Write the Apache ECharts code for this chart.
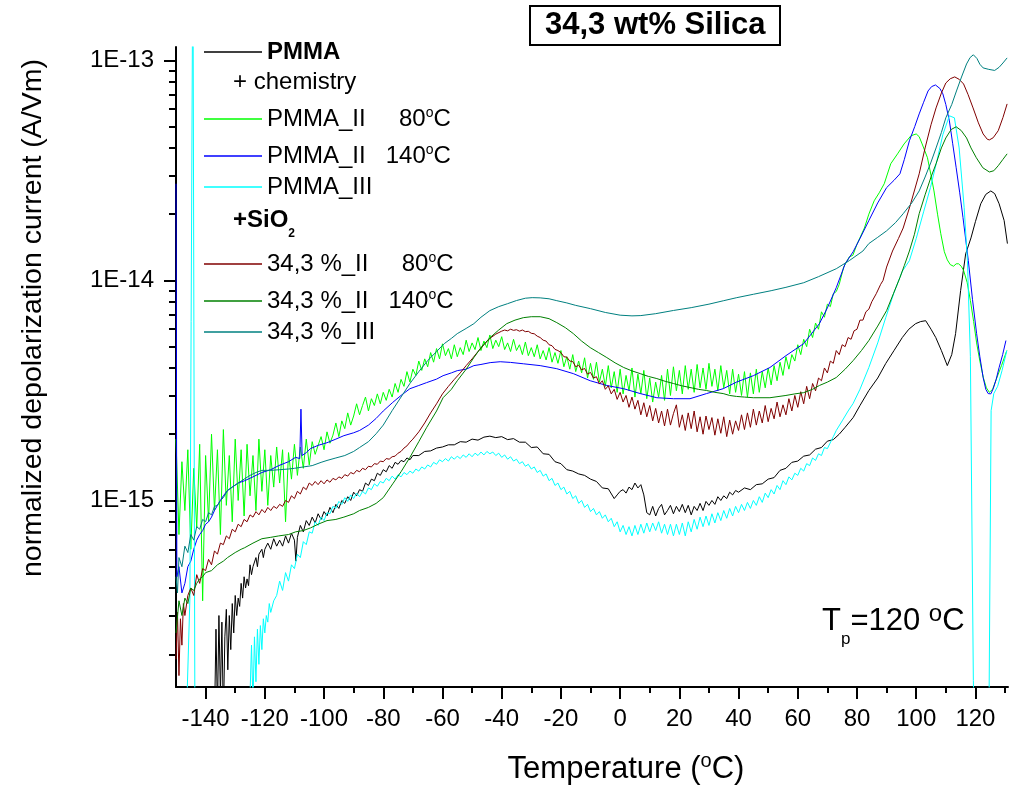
<!DOCTYPE html>
<html><head><meta charset="utf-8">
<script src="https://cdn.jsdelivr.net/npm/echarts@6/dist/echarts.min.js"></script>
<style>html,body{margin:0;padding:0;background:#fff}#c{width:1016px;height:787px}</style>
</head><body><div id="c"></div>
<script>
// values in units of 1E-15 A/Vm, x = temperature (°C)
const UNIT = 1e-15;
const xTicks = [-140,-120,-100,-80,-60,-40,-20,0,20,40,60,80,100,120];
const xMinorTicks = [-130,-110,-90,-70,-50,-30,-10,10,30,50,70,90,110,130];
const yTicks = [1e-15,1e-14,1e-13];
const seriesNames = ['PMMA','PMMA_II 80°C','PMMA_II 140°C','PMMA_III','34,3 %_II 80°C','34,3 %_II 140°C','34,3 %_III'];

const pmma = [[-137,0.1],[-136.5,0.26],[-136,0.11],[-135.5,0.3],[-135,0.13],[-134.5,0.28],[-134,0.1],[-133.5,0.24],[-133,0.32],[-132.5,0.17],[-132,0.3],[-131.5,0.21],[-131,0.34],[-130.5,0.25],[-130,0.37],[-129.5,0.3],[-129,0.36],[-128.5,0.33],[-128,0.42],[-127.5,0.36],[-127,0.45],[-126.5,0.4],[-126,0.44],[-125.5,0.41],[-125,0.51],[-124.5,0.46],[-124,0.5],[-123,0.55],[-122.5,0.5],[-122,0.57],[-121,0.6],[-120.5,0.55],[-120,0.6],[-119,0.64],[-118,0.6],[-117,0.67],[-116,0.62],[-115,0.66],[-114,0.62],[-113,0.69],[-112,0.64],[-111,0.71],[-110,0.66],[-109.5,0.53],[-109,0.68],[-108,0.77],[-107,0.72],[-106,0.81],[-105,0.77],[-104,0.84],[-103,0.79],[-102,0.87],[-101,0.82],[-100,0.89],[-99,0.85],[-98,0.93],[-97,0.88],[-96,0.96],[-95,0.92],[-94,1.0],[-93,0.97],[-92,1.04],[-91,1.0],[-90,1.09],[-89,1.05],[-88,1.12],[-87,1.1],[-86,1.2],[-85,1.17],[-84,1.25],[-83,1.23],[-82,1.33],[-81,1.3],[-80,1.38],[-79,1.35],[-78,1.44],[-77,1.4],[-76,1.49],[-75,1.46],[-74,1.52],[-73,1.5],[-72,1.56],[-71,1.53],[-70,1.6],[-68,1.6],[-66,1.67],[-64,1.68],[-62,1.73],[-60,1.75],[-58,1.79],[-56,1.79],[-54,1.85],[-52,1.84],[-50,1.9],[-48,1.88],[-46,1.94],[-44,1.96],[-42,1.93],[-40,1.95],[-38,1.89],[-36,1.91],[-34,1.84],[-32,1.84],[-30,1.74],[-28,1.75],[-26,1.63],[-24,1.62],[-22,1.5],[-20,1.47],[-18,1.38],[-16,1.36],[-14,1.32],[-12,1.3],[-10,1.25],[-8,1.22],[-6,1.14],[-4,1.13],[-2,1.02],[-1,1.06],[0,1.1],[1,1.12],[2,1.08],[3,1.15],[4,1.12],[5,1.2],[6,1.14],[7,1.18],[8,1.06],[9,0.88],[10,0.86],[11,0.94],[12,0.85],[13,0.92],[14,0.96],[15,0.86],[16,0.9],[17,0.95],[18,0.87],[19,0.94],[20,0.89],[21,0.96],[22,0.88],[23,0.95],[24,0.86],[25,0.94],[26,0.9],[27,0.97],[28,0.9],[29,0.99],[30,0.95],[31,1.0],[32,0.96],[33,1.04],[34,1.0],[35,1.05],[36,1.02],[37,1.09],[38,1.06],[39,1.11],[40,1.09],[42,1.14],[44,1.12],[46,1.18],[48,1.19],[50,1.25],[52,1.27],[54,1.37],[56,1.4],[58,1.49],[60,1.51],[62,1.59],[64,1.61],[66,1.71],[68,1.74],[70,1.86],[72,1.89],[74,2.0],[76,2.15],[78.7,2.38],[81,2.7],[84,3.16],[87,3.6],[89.7,4.19],[92.5,4.8],[95.3,5.5],[97.5,6.0],[99.8,6.36],[101.5,6.5],[103.2,6.56],[105,6.0],[106.6,5.5],[108.5,4.8],[110.5,4.1],[112,4.6],[113.3,5.73],[115,9.0],[116.7,13.2],[118.5,15.6],[120,18.5],[121.8,22.3],[123.5,24.6],[125.2,25.5],[126.5,24.8],[128,22.3],[129.7,18.7],[130.8,14.7]];

const pmmaII80 = [[-150,1.9],[-149,0.7],[-148,1.5],[-147,0.9],[-146,1.7],[-145,0.6],[-144,1.4],[-143,0.75],[-142,1.8],[-141,0.35],[-140,1.6],[-139,0.8],[-138,2.0],[-137,0.9],[-136,1.7],[-135,0.7],[-134,2.1],[-133,0.95],[-132,1.6],[-131,0.8],[-130,1.9],[-129,1.0],[-128,1.7],[-127,0.85],[-126,1.8],[-125,1.05],[-124,1.6],[-123,0.9],[-122,1.9],[-121,1.1],[-120,1.7],[-119,0.95],[-118,1.6],[-117,1.15],[-116,1.75],[-115,1.2],[-114,1.7],[-113,0.8],[-112,1.65],[-111,1.25],[-110,1.8],[-109,1.3],[-108,1.75],[-107,1.4],[-106,1.9],[-105,1.45],
[-104,1.85],[-103,1.62],[-102,1.78],[-101,1.95],[-100,1.7],[-99,2.05],[-98,1.82],[-97,1.98],[-96,2.25],[-95,1.95],[-94,2.3],[-93,2.12],[-92,2.5],[-91,2.2],[-90,2.42],[-89,2.75],[-88,2.45],[-87,2.7],[-86,2.95],[-85,2.55],[-84,2.9],[-83,2.7],[-82,3.05],[-81,2.75],[-80,3.1],[-79,2.85],[-78,3.2],[-77,2.95],[-76,3.4],[-75,3.1],[-74,3.55],[-73,3.3],[-72,3.85],[-71,3.45],[-70,3.95],[-69,3.7],[-68,4.3],[-67,3.9],[-66,4.4],[-65,4.05],[-64,4.7],[-63,4.25],[-62,4.9],[-61,4.4],[-60,5.15],[-59,4.55],[-58,4.9],[-57,4.4],[-56,5.1],[-55,4.5],[-54,4.95],[-53,4.6],[-52,5.35],[-51,4.75],[-50,5.2],[-49,4.85],[-48,5.5],[-47,4.8],[-46,5.3],[-45,4.95],[-44,5.65],[-43,4.9],[-42,5.35],[-41,5.0],[-40,5.55],[-39,4.85],[-38,5.2],[-37,4.75],[-36,5.4],[-35,4.8],[-34,5.1],[-33,4.6],[-32,5.25],[-31,4.55],[-30,4.95],[-29,4.5],[-28,5.1],[-27,4.4],[-26,4.8],[-25,4.35],[-24,4.95],[-23,4.25],[-22,4.7],[-21,4.2],[-20,4.8],[-19,4.05],[-18,4.5],[-17,3.95],[-16,4.6],[-15,3.85],[-14,4.3],[-13,3.8],[-12,4.45],[-11,3.6],[-10,4.2],[-9,3.55],[-8,4.25],[-7,3.45],[-6,3.95],[-5,3.3],[-4,4.1],[-3,3.25],[-2,3.85],[-1,3.1],[0,3.95],[1,3.05],[2,3.7],[3,3.15],[4,4.0],[5,2.95],[6,3.75],[7,3.05],[8,3.9],[9,2.9],[10,3.6],[11,2.8],[12,3.45],[13,2.95],[14,3.7],[15,2.85],[16,3.95],[17,3.0],[18,4.05],[19,3.15],[20,3.9],[21,3.05],[22,4.1],[23,3.2],[24,3.95],[25,3.1],[26,4.15],[27,3.25],[28,4.0],[29,3.2],[30,4.2],[31,3.3],[32,3.95],[33,3.15],[34,4.1],[35,3.25],[36,3.9],[37,3.05],[38,3.95],[39,3.1],[40,3.75],[41,3.0],[42,3.85],[43,2.95],[44,3.8],[45,3.05],[46,3.95],[47,3.1],[48,3.85],[49,3.25],[50,4.0],[51,3.35],[52,4.1],[53,3.5],[54,4.25],[55,3.7],[56,4.5],[57,3.95],[58,4.6],[59,4.3],[60,5.1],[61,4.6],[62,5.4],[63,5.0],[64,6.0],[65,5.5],[66,6.4],[67,6.0],[68,7.2],[69,6.8],[70,7.8],[71,7.6],[72,8.7],[73,8.9],[74,9.6],
[75.5,11.5],[77.4,12.8],[78.6,13.0],[80,14.6],[82.5,17.3],[84,20.0],[85.8,23.0],[87.5,25.0],[89.2,27.5],[91.4,33.9],[93.7,37.6],[95.9,41.7],[98.2,45.4],[100,46.3],[101,45.0],[102,41.7],[103.8,36.1],[105,30.0],[106,25.5],[107.2,20.0],[108.3,16.3],[109.5,13.5],[110.5,12.4],[111.5,11.8],[112.6,11.6],[113.5,11.9],[114.3,11.9],[115.2,11.6],[116,11.1],[117.2,9.8],[118.3,8.1],[119.4,6.5],[120.4,5.2],[121.5,4.3],[122.7,3.6],[123.7,3.25],[124.7,3.1],[125.8,3.2],[127.2,3.6],[128.8,4.1],[130.6,4.8]];

const pmmaII140 = [[-150,27.5],[-149.7,0.45],[-149,0.5],[-148,0.38],[-147,0.42],[-146,0.5],[-145,0.53],[-144,0.6],[-143,0.66],[-142,0.7],[-141,0.73],[-140,0.78],[-139,0.8],[-138,0.84],[-137,0.9],[-136,0.95],[-135,1.0],[-134,1.05],[-132.6,1.11],[-131,1.15],[-129,1.2],[-126.8,1.23],[-124,1.28],[-121,1.34],[-118,1.38],[-115.3,1.44],[-112,1.5],[-109.6,1.57],[-108.2,1.55],[-107.8,2.6],[-107.4,1.6],[-106,1.65],[-104.6,1.72],[-102,1.78],[-99,1.83],[-96,1.9],[-93.3,1.97],[-90,2.03],[-88,2.08],[-85,2.2],[-82.4,2.36],[-80,2.55],[-76.8,2.79],[-74,3.0],[-71,3.22],[-68,3.33],[-65.4,3.43],[-62,3.56],[-59.8,3.69],[-57,3.8],[-55,3.89],[-52,3.95],[-49.4,4.1],[-47,4.15],[-43.9,4.23],[-40.5,4.27],[-37,4.24],[-32.7,4.18],[-27,4.1],[-21.4,3.97],[-15.8,3.77],[-10.1,3.5],[-4.5,3.33],[1.2,3.22],[6.8,3.06],[12.4,2.93],[18,2.9],[23.6,2.9],[29.2,3.06],[34.8,3.22],[39.3,3.45],[45,3.69],[50.6,4.02],[56,4.55],[62,5.16],[67.3,6.36],[70,7.5],[73,9.27],[76,11.9],[78.7,13.5],[81,15.5],[84,18.7],[87,22.5],[90,26.4],[92.5,28.5],[94.5,30.5],[96,35.5],[97.7,43.1],[99.5,50],[101,57.1],[102.5,64.5],[104,72.6],[105.2,76],[106.5,77.3],[108,74.5],[109,70.4],[110,63],[111.2,53.1],[112.3,42],[113.5,32.5],[114.7,25],[115.8,19.3],[117.6,12.3],[119,8.2],[120.4,5.73],[121.5,4.5],[122.6,3.62],[123.5,3.2],[124.3,3.06],[125.2,3.05],[126,3.22],[127,3.55],[128,4.02],[129.2,4.6],[130.3,5.33]];

const pmmaIII = [[-148,0.08],[-146.5,0.1],[-145.3,0.36],[-144.3,400],[-143.6,0.08],[-140,0.05],[-130,0.05],[-125.5,0.05],[-125,0.13],[-124.5,0.22],[-124,0.12],[-123.5,0.24],[-123,0.15],[-122.5,0.26],[-122,0.18],[-121.5,0.27],[-121,0.21],[-120.5,0.29],[-120,0.25],[-119.5,0.3],[-119,0.28],[-118.5,0.34],[-118,0.31],[-117,0.35],[-116,0.37],[-115,0.43],[-114,0.39],[-113,0.47],[-112,0.43],[-111,0.51],[-110,0.49],[-109,0.57],[-108,0.55],[-107,0.65],[-106,0.63],[-105,0.72],[-104,0.71],[-103,0.8],[-102,0.77],[-101,0.84],[-100,0.81],[-99,0.88],[-98,0.87],[-97,0.94],[-96,0.92],[-95,0.99],[-94,0.96],[-93,1.03],[-92,0.99],[-91,1.06],[-90,1.02],[-89,1.08],[-88,1.04],[-87,1.1],[-86,1.07],[-85,1.14],[-84,1.12],[-83,1.19],[-82,1.16],[-81,1.22],[-80,1.2],[-79,1.26],[-78,1.23],[-77,1.29],[-76,1.25],[-75,1.31],[-74,1.28],[-73,1.34],[-72,1.31],[-71,1.36],[-70,1.33],[-69,1.39],[-68,1.36],[-67,1.42],[-66,1.39],[-65,1.45],[-64,1.42],[-63,1.49],[-62,1.46],[-61,1.53],[-60,1.5],[-59,1.55],[-58,1.51],[-57,1.58],[-56,1.54],[-55,1.59],[-54,1.55],[-53,1.61],[-52,1.57],[-51,1.63],[-50,1.58],[-49,1.64],[-48,1.6],[-47,1.66],[-46,1.61],[-45,1.67],[-44,1.63],[-43,1.66],[-42,1.6],[-41,1.64],[-40,1.57],[-39,1.61],[-38,1.54],[-37,1.58],[-36,1.51],[-35,1.54],[-34,1.47],[-33,1.5],[-32,1.43],[-31,1.46],[-30,1.39],[-29,1.42],[-28,1.34],[-27,1.37],[-26,1.29],[-25,1.32],[-24,1.23],[-23,1.26],[-22,1.17],[-21,1.2],[-20,1.12],[-19,1.15],[-18,1.07],[-17,1.1],[-16,1.02],[-15,1.05],[-14,0.97],[-13,1.0],[-12,0.93],[-11,0.96],[-10,0.89],[-9,0.92],[-8,0.86],[-7,0.89],[-6,0.83],[-5,0.86],[-4,0.8],[-3,0.83],[-2,0.76],[-1,0.8],[0,0.72],[1,0.77],[2,0.7],[3,0.76],[4,0.69],[5,0.77],[6,0.7],[7,0.78],[8,0.71],[9,0.79],[10,0.72],[11,0.79],[12,0.73],[13,0.8],[14,0.71],[15,0.78],[16,0.7],[17,0.78],[18,0.69],[19,0.78],[20,0.7],[21,0.79],[22,0.69],[23,0.8],[24,0.72],[25,0.82],[26,0.74],[27,0.84],[28,0.76],[29,0.85],[30,0.77],[31,0.87],[32,0.79],[33,0.88],[34,0.81],[35,0.9],[36,0.83],[37,0.92],[38,0.85],[39,0.94],[40,0.88],[41,0.96],[42,0.9],[43,0.98],[44,0.92],[45,1.0],[46,0.95],[47,1.04],[48,0.98],[49,1.08],[50,1.03],[51,1.12],[52,1.07],[53,1.17],[54,1.12],[55,1.23],[56,1.18],[57,1.28],[58,1.24],[59,1.33],[60,1.3],[61,1.4],[62,1.36],[63,1.47],[64,1.44],[65,1.56],[66,1.52],[67,1.63],[68,1.6],[69,1.74],[70,1.72],[72,1.95],[73,2.08],[75,2.3],[77,2.55],[78.7,2.76],[81,3.2],[84,4.02],[87,5.2],[89.7,6.77],[92.5,8.8],[95.3,11.0],[97.7,12.3],[100,15.5],[102.5,20.5],[104.8,26.4],[107,35],[109,46],[111.2,56],[112.9,54.8],[114.5,40],[116.2,21.4],[117.3,12.3],[118.3,4.5],[119.3,0.152],[120,0.05],[124.4,0.05],[125.3,2.56],[126.2,3.06],[127.5,3.3],[129,3.9],[130.6,4.8]];

const si80 = [[-150,0.19],[-149.5,0.31],[-149,0.16],[-148.5,0.29],[-148,0.22],[-147.5,0.34],[-147,0.3],[-146,0.37],[-145,0.4],[-144,0.37],[-143,0.46],[-142,0.42],[-141,0.49],[-140,0.48],[-139,0.54],[-138,0.51],[-137,0.59],[-136,0.57],[-135,0.64],[-134,0.63],[-133,0.69],[-132,0.67],[-131,0.74],[-130,0.72],[-129,0.78],[-128,0.76],[-127,0.82],[-126,0.8],[-125,0.86],[-124,0.84],[-123,0.89],[-122,0.86],[-121,0.91],[-120,0.88],[-119,0.93],[-118,0.9],[-117,0.94],[-116,0.92],[-115,0.96],[-114,0.94],[-113,1.0],[-112,0.98],[-111,1.05],[-110,1.02],[-109,1.1],[-108,1.07],[-107,1.15],[-106,1.12],[-105,1.2],[-104,1.17],[-103,1.22],[-102,1.18],[-101,1.23],[-100,1.19],[-99,1.24],[-98,1.21],[-97,1.26],[-96,1.24],[-95,1.28],[-94,1.26],[-93,1.31],[-92,1.29],[-91,1.34],[-90,1.32],[-89,1.37],[-88,1.35],[-87,1.4],[-86,1.38],[-85,1.43],[-84,1.42],[-83,1.47],[-82,1.46],[-81,1.51],[-80,1.5],[-79,1.55],[-78,1.54],[-77,1.58],[-76,1.59],[-75,1.64],[-74,1.67],[-73,1.73],[-72,1.77],[-71,1.84],[-70,1.9],[-68,2.05],[-66,2.25],[-64,2.5],[-62,2.75],[-60,3.05],[-58,3.3],[-56,3.55],[-54,3.8],[-52,4.1],[-50,4.4],[-48,4.75],[-46,5.1],[-44,5.45],[-42,5.7],[-40,5.88],[-39,5.95],[-38,5.9],[-37,6.0],[-36,5.93],[-35,5.97],[-34,5.88],[-33,5.95],[-32,5.85],[-31,5.87],[-30,5.75],[-29,5.72],[-28,5.58],[-27,5.5],[-26,5.35],[-25,5.3],[-24,5.1],[-23,5.05],[-22,4.86],[-21,4.8],
[-20,4.7],[-19,4.5],[-18,4.48],[-17,4.3],[-16,4.28],[-15,4.05],[-14,4.12],[-13,3.92],[-12,3.98],[-11,3.75],[-10,3.82],[-9,3.6],[-8,3.65],[-7,3.38],[-6,3.5],[-5,3.2],[-4,3.32],[-3,3.05],[-2,3.2],[-1,2.88],[0,3.1],[1,2.8],[2,3.0],[3,2.65],[4,2.95],[5,2.6],[6,2.85],[7,2.45],[8,2.78],[9,2.4],[10,2.7],[11,2.3],[12,2.62],[13,2.25],[14,2.55],[15,2.18],[16,2.6],[17,2.2],[18,2.48],[19,2.72],[20,2.15],[21,2.45],[22,2.08],[23,2.5],[24,2.12],[25,2.55],[26,2.05],[27,2.4],[28,2.0],[29,2.42],[30,2.1],[31,2.38],[32,1.98],[33,2.35],[34,2.02],[35,2.4],[36,1.95],[37,2.32],[38,2.0],[39,2.3],[40,2.08],[41,2.45],[42,2.1],[43,2.5],[44,2.15],[45,2.6],[46,2.2],[47,2.55],[48,2.25],[49,2.7],[50,2.28],[51,2.62],[52,2.35],[53,2.8],[54,2.4],[55,2.72],[56,2.45],[57,2.9],[58,2.55],[59,3.0],[60,2.65],[61,3.12],[62,2.75],[63,3.3],[64,2.9],[65,3.4],[66,3.15],[67,3.6],[68,3.5],[69,4.0],[70,3.8],[71,4.3],[72,4.2],[73,4.8],[74,4.6],[75,5.1],[76,5.0],[77,5.5],[78,5.4],[79,5.9],[80,6.0],[81,6.6],[82,6.6],[83,7.2],[84,7.4],[85,8.0],[86.5,8.7],[88,9.6],[88.8,10.0],[90,11.5],[92,13.6],[94,15.5],[95.6,17.3],[98,22],[101,30.5],[103,40],[105,51],[106.7,60.8],[108.5,71],[110,78.9],[111.5,82.5],[113,84.1],[114.5,82],[116,78.1],[117.5,70],[119.2,60.8],[121,52],[122.6,46.3],[124,43.8],[124.7,43.5],[126,44.5],[127.7,47.9],[129.3,55],[130.7,63.4]];

const si140 = [[-150,0.25],[-149,0.35],[-148,0.3],[-147,0.36],[-146,0.34],[-145,0.4],[-144,0.39],[-143,0.42],[-142,0.44],[-141,0.45],[-140,0.47],[-138,0.48],[-136,0.51],[-134,0.53],[-132.6,0.55],[-130,0.58],[-128,0.6],[-126.8,0.61],[-124,0.64],[-121,0.67],[-118,0.68],[-115.3,0.69],[-112,0.7],[-109.6,0.72],[-107,0.73],[-104.6,0.75],[-102,0.78],[-99,0.81],[-96,0.82],[-93.3,0.84],[-90,0.87],[-88,0.9],[-85,0.93],[-82.4,0.97],[-80,1.03],[-76.8,1.19],[-74,1.35],[-71,1.57],[-68,1.85],[-65.4,2.14],[-62,2.55],[-59.8,2.93],[-57,3.2],[-55,3.5],[-52,3.95],[-49.4,4.46],[-47,4.95],[-43.9,5.5],[-41,5.95],[-38.3,6.36],[-35.5,6.6],[-32.7,6.77],[-30,6.84],[-27,6.84],[-24,6.7],[-21.4,6.43],[-18.5,6.1],[-15.8,5.73],[-13,5.3],[-10.1,4.95],[-7.3,4.7],[-4.5,4.46],[-1.7,4.22],[1.2,4.02],[4,3.88],[6.8,3.77],[9.6,3.66],[12.4,3.58],[15.2,3.48],[18,3.4],[20.8,3.32],[23.6,3.26],[26.4,3.2],[29.2,3.16],[32,3.1],[34.8,3.06],[37,3.0],[39.3,2.97],[42,2.95],[45,2.93],[50.6,2.93],[56,3.0],[59,3.05],[62,3.09],[65,3.2],[67.3,3.33],[70,3.45],[73,3.62],[76,3.95],[78.7,4.32],[81.5,4.8],[84,5.33],[87,6.2],[90,7.29],[92.3,8.7],[94.5,10.3],[96,11.7],[97.7,13.6],[99.4,16.2],[101,20.1],[103,24.5],[105,29.5],[106.7,33.9],[108.5,40],[110,44.4],[111.8,48.5],[113.5,49.9],[115.2,48],[117,44.4],[118.5,40],[120.3,36.1],[122.5,32.5],[124.7,31.1],[126.2,31.5],[127.7,33.2],[129.3,35.5],[130.7,37.6]];

const siIII = [[-150,0.45],[-149.5,0.38],[-149,0.55],[-148,0.5],[-147,0.62],[-146,0.58],[-145,0.7],[-144,0.66],[-143,0.76],[-142,0.74],[-141,0.82],[-140,0.8],[-139,0.88],[-138,0.86],[-137,0.94],[-136,0.95],[-135,1.0],[-134,1.03],[-132.6,1.11],[-131,1.15],[-129,1.2],[-127,1.25],[-125,1.3],[-123,1.34],[-121,1.37],[-118,1.37],[-115,1.38],[-112,1.39],[-110,1.4],[-107,1.42],[-104,1.44],[-101,1.49],[-99,1.52],[-96,1.56],[-93,1.6],[-90,1.67],[-88,1.74],[-85,1.85],[-82.4,2.01],[-80,2.2],[-77,2.56],[-74,2.95],[-71,3.4],[-68,3.85],[-65,4.32],[-62,4.75],[-59.4,5.16],[-57,5.45],[-55,5.73],[-52,6.05],[-49.4,6.36],[-47,6.8],[-44,7.29],[-41,7.6],[-38,7.84],[-35,8.1],[-32,8.3],[-29.7,8.35],[-27,8.33],[-24,8.25],[-21.4,8.09],[-18,7.9],[-15,7.7],[-10,7.44],[-5,7.15],[0,6.95],[4,6.9],[7,6.92],[12,7.06],[18,7.3],[24,7.52],[30,7.8],[35,8.09],[39.4,8.35],[45,8.65],[51,8.98],[56,9.3],[62,9.76],[67,10.4],[73,11.3],[77.4,12.3],[82,13.6],[84,14.7],[87,15.7],[90,16.8],[93,18.3],[95.6,20.1],[98.5,22.5],[101,25.5],[103,29.5],[105,34.5],[106.7,40],[108.5,47],[110,54.8],[112,63],[113.6,72.6],[115.3,84],[117,96.3],[118.2,103],[119.3,106],[120.5,102],[121.5,96],[122.6,92.4],[124.5,91],[126.5,90],[128,93],[129.3,97.3],[130.7,102.6]];

const seriesData = [pmma, pmmaII80, pmmaII140, pmmaIII, si80, si140, siIII];
const seriesColors = ['#000000','#00ff00','#0000ff','#00ffff','#800000','#008000','#008080'];
const legendLabels = {
  'PMMA':'PMMA',
  'PMMA_II 80°C':'PMMA_II     80{s|o}C',
  'PMMA_II 140°C':'PMMA_II   140{s|o}C',
  'PMMA_III':'PMMA_III',
  '34,3 %_II 80°C':'34,3 %_II     80{s|o}C',
  '34,3 %_II 140°C':'34,3 %_II   140{s|o}C',
  '34,3 %_III':'34,3 %_III'
};
const legendTops = [40,106,143,175,251,288,320];

const FONT = "'Liberation Sans', Arial, Helvetica, sans-serif";
const yMinor = [];
[-16,-15,-14].forEach(e => { for (let m = 2; m <= 9; m++) { const v = m * Math.pow(10, e); if (v > 1.42e-16 && v < 1.15e-13) yMinor.push(v); } });

const chart = echarts.init(document.getElementById('c'), null, {renderer:'canvas'});
const legends = seriesNames.map((n, i) => ({
  data:[n], left:204, top:legendTops[i], padding:0, itemWidth:58, itemHeight:1.5, itemGap:0,
  icon:'rect', selectedMode:false, orient:'horizontal',
  formatter: name => legendLabels[name],
  textStyle:{fontFamily:FONT, fontSize:24, color:'#000', fontWeight: i === 0 ? 'bold' : 'normal',
    rich:{s:{fontFamily:FONT, fontSize:14, color:'#000', padding:[0,0,12,0]}}}
}));

const option = {
  animation:false,
  backgroundColor:'#ffffff',
  title:{text:'34,3 wt% Silica', left:530, top:6, padding:[4,15], borderColor:'#000', borderWidth:2,
    textStyle:{fontFamily:FONT, fontSize:31, fontWeight:'bold', color:'#000'}},
  legend: legends,
  grid:{left:176, right:8, top:47, bottom:100},
  xAxis:[
    {type:'value', min:-150, max:131, position:'bottom',
      axisLine:{onZero:false, lineStyle:{color:'#000', width:2}},
      axisTick:{customValues:xTicks, length:12, lineStyle:{color:'#000', width:2}},
      axisLabel:{customValues:xTicks, fontFamily:FONT, fontSize:24, color:'#000', margin:20},
      splitLine:{show:false}},
    {type:'value', min:-150, max:131, position:'bottom',
      axisLine:{show:false, onZero:false},
      axisTick:{customValues:xMinorTicks, length:6, lineStyle:{color:'#000', width:2}},
      axisLabel:{show:false}, splitLine:{show:false}}
  ],
  yAxis:[
    {type:'log', logBase:10, min:1.42e-16, max:1.15e-13, position:'left',
      axisLine:{show:true, onZero:false, lineStyle:{color:'#000', width:2}},
      axisTick:{show:true, customValues:yTicks, length:12, lineStyle:{color:'#000', width:2}},
      axisLabel:{customValues:yTicks, fontFamily:FONT, fontSize:24, color:'#000', margin:22,
        formatter: v => '1E' + Math.round(Math.log10(v))},
      splitLine:{show:false}},
    {type:'log', logBase:10, min:1.42e-16, max:1.15e-13, position:'left',
      axisLine:{show:false, onZero:false},
      axisTick:{show:true, customValues:yMinor, length:7, lineStyle:{color:'#000', width:2}},
      axisLabel:{show:false}, splitLine:{show:false}}
  ],
  series: seriesNames.map((n, i) => ({
    name:n, type:'line', xAxisIndex:0, yAxisIndex:0, showSymbol:false, symbol:'none',
    clip:true, smooth:false, lineStyle:{color:seriesColors[i], width:1}, itemStyle:{color:seriesColors[i]},
    data: seriesData[i].map(p => [p[0], p[1] * UNIT])
  })),
  graphic:[
    {type:'text', x:33, y:318, rotation:Math.PI/2,
      style:{text:'normalized depolarization current (A/Vm)', fontFamily:FONT, fontSize:28.5, fill:'#000',
        align:'center', verticalAlign:'middle', textAlign:'center', textVerticalAlign:'middle'}},
    {type:'text', x:626, y:769,
      style:{text:'Temperature ({s|o}C)', fontFamily:FONT, fontSize:31, fill:'#000',
        align:'center', verticalAlign:'middle', textAlign:'center', textVerticalAlign:'middle',
        rich:{s:{fontFamily:FONT, fontSize:20, fill:'#000', padding:[0,0,15,0]}}}},
    {type:'text', x:822, y:621,
      style:{text:'T{b|p}=120 {s|o}C', fontFamily:FONT, fontSize:31, fill:'#000',
        align:'left', verticalAlign:'middle', textAlign:'left', textVerticalAlign:'middle',
        rich:{b:{fontFamily:FONT, fontSize:17, fill:'#000', padding:[36,0,0,0]},
              s:{fontFamily:FONT, fontSize:24, fill:'#000', padding:[0,0,14,0]}}}},
    {type:'text', x:233, y:82,
      style:{text:'+ chemistry', fontFamily:FONT, fontSize:24, fill:'#000',
        align:'left', verticalAlign:'middle', textAlign:'left', textVerticalAlign:'middle'}},
    {type:'text', x:233, y:220,
      style:{text:'+SiO{b|2}', fontFamily:FONT, fontSize:24, fontWeight:'bold', fill:'#000',
        align:'left', verticalAlign:'middle', textAlign:'left', textVerticalAlign:'middle',
        rich:{b:{fontFamily:FONT, fontSize:12, fontWeight:'bold', fill:'#000', padding:[28,0,0,0]}}}}
  ]
};
chart.setOption(option);
</script>
</body></html>
